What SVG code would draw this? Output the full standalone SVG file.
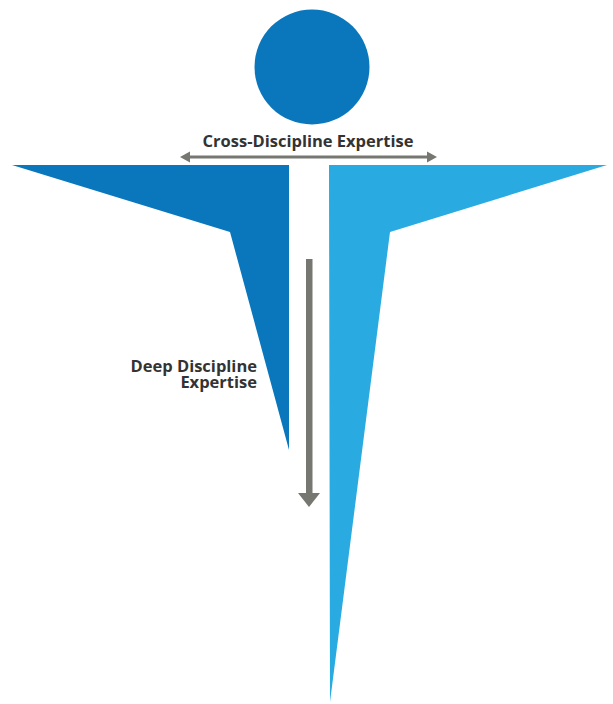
<svg xmlns="http://www.w3.org/2000/svg" width="613" height="704" viewBox="0 0 613 704">
<style>
.lbl{font-family:"Open Sans","Liberation Sans",sans-serif;font-weight:bold;font-size:16.5px;fill:#333333}
.arr{fill:#777772}
</style>
<rect width="613" height="704" fill="#ffffff"/>
<g id="head"><circle cx="312" cy="67" r="57.5" fill="#0a77bd"/></g>
<g id="left-arm"><polygon points="12,165 289,165 289,450 230,232" fill="#0a77bd"/></g>
<g id="right-body"><polygon points="329,165 607,165 390,232 330,702" fill="#29abe2"/></g>
<g id="connectors">
<rect class="arr" x="188" y="155.5" width="241" height="3"/>
<polygon class="arr" points="180,157 190,151.5 190,162.5"/>
<polygon class="arr" points="437,157 427,151.5 427,162.5"/>
<rect class="arr" x="306" y="259" width="6.5" height="236"/>
<polygon class="arr" points="298,493 320,493 309,507"/>
</g>
<g id="label-cross"><text class="lbl" x="308" y="147" text-anchor="middle">Cross-Discipline Expertise</text></g>
<g id="label-deep"><text class="lbl" x="257" y="371.5" text-anchor="end">Deep Discipline</text><text class="lbl" x="257" y="388" text-anchor="end">Expertise</text></g>
</svg>
